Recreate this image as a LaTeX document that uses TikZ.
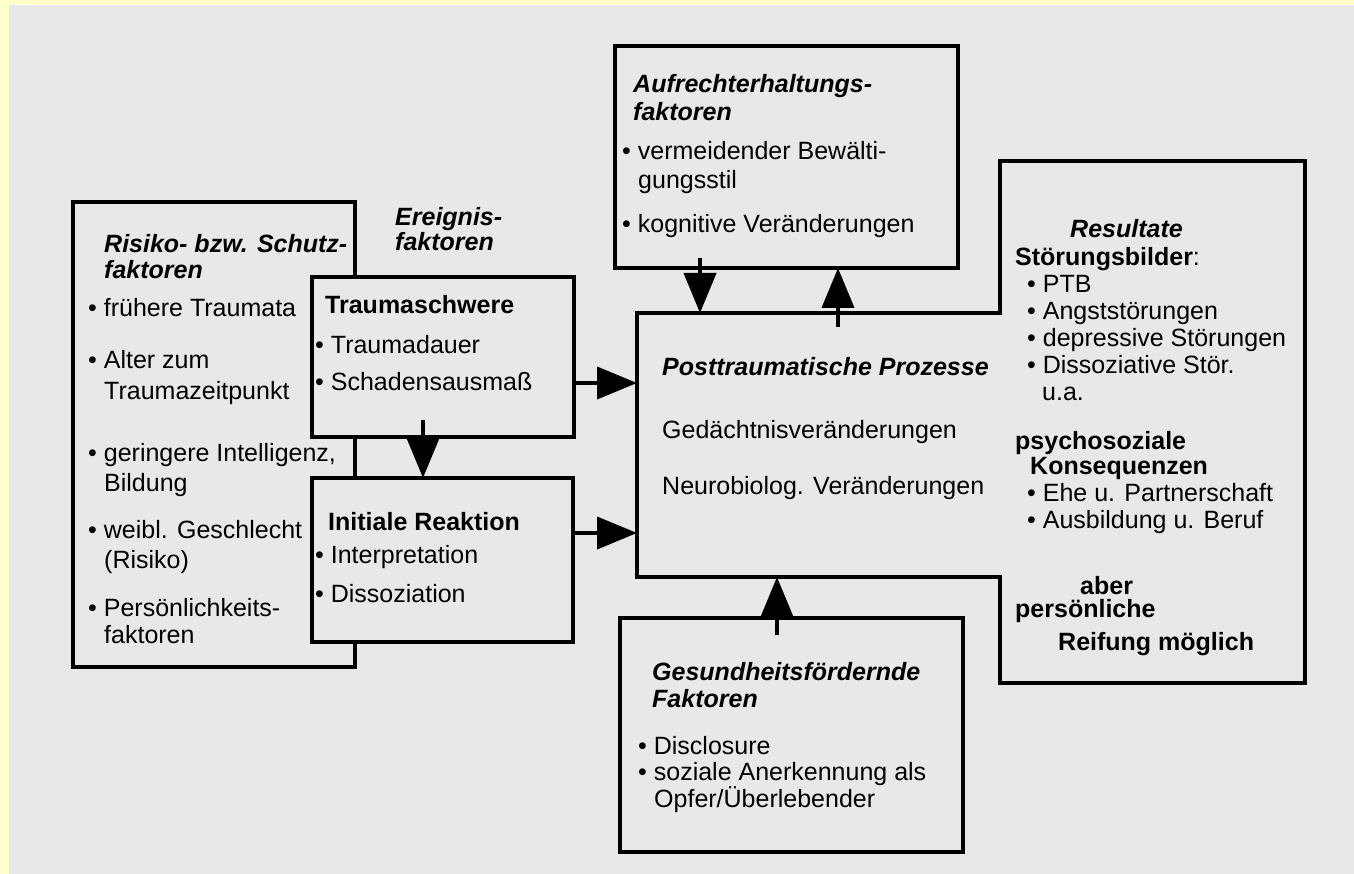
\documentclass[tikz,border=0pt]{standalone}
\usepackage{fontspec}
\setmainfont{Liberation Sans}
\usetikzlibrary{calc,arrows.meta}
\definecolor{paper}{gray}{0.91}
\definecolor{edge}{HTML}{FFFFCC}
\def\kopf#1{{\bfseries\itshape #1}}
\def\ein{\hspace*{16pt}}
\tikzset{
  block/.style={draw=black, line width=3.5pt, fill=paper, anchor=north west, inner sep=0pt, outer sep=0pt},
  blockfill/.style={fill=paper, anchor=north west, inner sep=0pt, outer sep=0pt},
  blocktext/.style={anchor=north west, align=left, inner sep=0pt, font=\fontsize{25}{30}\selectfont},
  flow/.style={line width=4pt, -{Triangle[length=40pt,width=32pt]}}
}

\begin{document}
\begin{tikzpicture}[x=1pt,y=-1pt]
			%%%%% START %%%%%
			\useasboundingbox (0,0) rectangle (1354,874);
			\fill[paper] (9,5) rectangle (1354,874);
			\fill[edge] (0,0) rectangle (9,874);
			\fill[edge] (0,0) rectangle (1354,5);
			
			% left column
			\node[block, minimum width=282pt, minimum height=465pt] (risk) at (73,202) {};
			\node[block, minimum width=262pt, minimum height=160pt] (severity) at (312,277) {};
			\node[block, minimum width=261pt, minimum height=164pt] (initial) at (312,478) {};
			
			\node[blocktext] (risktext) at (88,234) {%
				\ein\kopf{Risiko- bzw. Schutz-}\\[-4pt]
				\ein\kopf{faktoren}\\[8pt]
				• frühere Traumata\\[22pt]
				• Alter zum\\[1pt]
				\ein Traumazeitpunkt\\[32pt]
				• geringere Intelligenz,\\
				\ein Bildung\\[17pt]
				• weibl. Geschlecht\\
				\ein(Risiko)\\[18pt]
				• Persönlichkeits-\\[-3pt]
				\ein faktoren};
			\node[blocktext] (eventtext) at (395,207) {\kopf{Ereignis-}\\[-5pt]\kopf{faktoren}};
			\node[blocktext] (severitytext) at (315,295) {%
				\hspace*{10pt}\textbf{Traumaschwere}\\[10pt]
				• Traumadauer\\[7pt]
				• Schadensausmaß};
			\node[blocktext] (initialtext) at (315,512) {%
				\hspace*{13pt}\textbf{Initiale Reaktion}\\[3pt]
				• Interpretation\\[9pt]
				• Dissoziation};
			
			% middle and right
			\node[block, minimum width=343pt, minimum height=222pt] (upkeep) at (615,46) {};
			\node[blockfill, minimum width=363pt, minimum height=264pt] (process) at (637,313) {};
			\node[blockfill, minimum width=305pt, minimum height=522pt] (result) at (1000,161) {};
			\draw[line width=3.5pt] (process.north west) -- (process.north east) -- (result.north west)
				-- (result.north east) -- (result.south east) -- (result.south west)
				-- (process.south east) -- (process.south west) -- cycle;
			\node[block, minimum width=343pt, minimum height=234pt] (health) at (620,618) {};
			
			\node[blocktext] (upkeeptext) at (622,74) {%
				\hspace*{11pt}\kopf{Aufrechterhaltungs-}\\[-2pt]
				\hspace*{11pt}\kopf{faktoren}\\[9pt]
				• vermeidender Bewälti-\\[-1pt]
				\ein gungsstil\\[14pt]
				• kognitive Veränderungen};
			\node[blocktext] (processtext) at (662,357) {%
				\kopf{Posttraumatische Prozesse}\\[33pt]
				Gedächtnisveränderungen\\[26pt]
				Neurobiolog. Veränderungen};
			\node[blocktext, font=\fontsize{25}{27}\selectfont] (resulttext) at (1015,219) {%
				\hspace*{55pt}\kopf{Resultate}\\[1pt]
				\textbf{Störungsbilder}:\\
				\hspace*{12pt}• PTB\\
				\hspace*{12pt}• Angststörungen\\
				\hspace*{12pt}• depressive Störungen\\
				\hspace*{12pt}• Dissoziative Stör.\\
				\hspace*{27pt}u.a.\\[22pt]
				\textbf{psychosoziale}\\[-2pt]
				\hspace*{15pt}\textbf{Konsequenzen}\\
				\hspace*{12pt}• Ehe u. Partnerschaft\\
				\hspace*{12pt}• Ausbildung u. Beruf\\[39pt]
				\hspace*{65pt}\textbf{aber}\\[-4pt]
				\textbf{persönliche}\\[6pt]
				\hspace*{43pt}\textbf{Reifung möglich}};
			\node[blocktext] (healthtext) at (638,662) {%
				\hspace*{14pt}\kopf{Gesundheitsfördernde}\\[-3pt]
				\hspace*{14pt}\kopf{Faktoren}\\[17pt]
				• Disclosure\\[-4pt]
				• soziale Anerkennung als\\[-3pt]
				\ein Opfer/Überlebender};
			
			% arrows
			\draw[flow] ($(severity.east)+(0,26)$) -- ($(process.west)+(0,-62)$);
			\draw[flow] ($(initial.east)+(0,-27)$) -- ($(process.west)+(0,88)$);
			\draw[flow] ($(severity.south)+(-20,-17)$) -- ($(initial.north)+(-19.5,0)$);
			\draw[flow] ($(upkeep.south)+(-86.5,-10)$) -- ($(process.north)+(-118.5,0)$);
			\draw[flow] ($(process.north)+(19.5,14)$) -- ($(upkeep.south)+(51.5,0)$);
			\draw[flow] ($(health.north)+(-14.5,17)$) -- ($(process.south)+(-41.5,0)$);
			
			%%%%% END %%%%%
\end{tikzpicture}
\end{document}
